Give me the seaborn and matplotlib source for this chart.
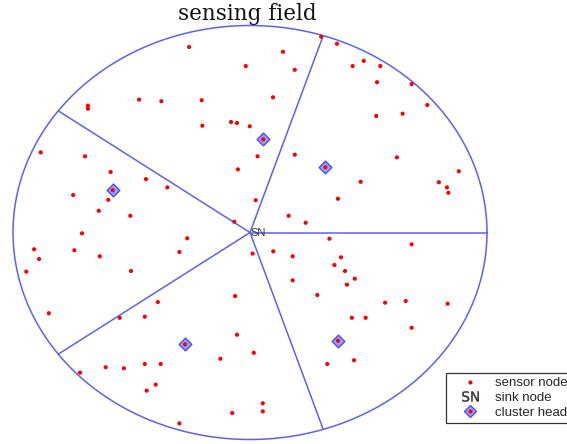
import numpy as np
import matplotlib
matplotlib.use("Agg")
import matplotlib.pyplot as plt
from matplotlib.lines import Line2D
import seaborn as sns

# sensor node positions (field radius 100, sink at origin)
sensor_x = [-25.7, 13.9, -1.8, 9.7, -68.4, -68.4, -46.8, -37.4, -20.4, -20.1,
            -8.0, -5.5, -0.1, 3.2, -5.1, 2.4, 16.3, -6.6, -88.3, -69.6,
            -58.8, -43.9, -34.9, -74.6, -59.8, -63.8, -50.5, 30.0, 36.7, 18.9,
            43.3, 48.0, 55.0, 53.6, 68.2, 74.8, 53.3, 64.4, 18.9, 62.0,
            88.1, 79.7, 83.1, 83.7, 46.7, 37.1, 23.5, 33.5, -70.9, -26.5,
            -91.1, -74.1, -89.0, -63.4, -29.8, 1.1, 9.8, -94.4, -50.2, -84.9,
            -38.9, -55.0, -44.4, -6.3, -5.5, 1.6, -12.5, -71.7, -60.9, -53.2,
            -44.4, -37.7, -39.8, -43.6, 5.4, 5.4, -7.5, -29.8, 68.2, 18.0,
            38.4, 35.6, 40.1, 44.2, 18.0, 40.9, 28.4, 57.0, 65.7, 83.4,
            43.0, 48.8, 68.2, 32.6, 43.9]
sensor_y = [89.6, 87.3, 80.4, 65.3, 61.3, 59.8, 64.2, 63.4, 63.9, 51.6,
            53.4, 52.9, 51.3, 36.8, 30.5, 15.6, 8.1, 5.2, 38.7, 36.8,
            29.2, 25.8, 21.8, 18.1, 15.8, 10.5, 8.1, 94.6, 91.2, 78.6,
            80.4, 82.9, 80.4, 72.6, 71.7, 61.6, 56.3, 57.4, 37.6, 36.3,
            29.6, 24.3, 21.8, 19.2, 24.5, 16.3, 4.7, -3.0, -0.4, -2.8,
            -8.1, -8.6, -12.8, -11.5, -9.4, -10.2, -9.1, -18.9, -18.6, -39.0,
            -33.6, -41.2, -40.7, -30.7, -49.4, -58.1, -61.0, -67.7, -65.1, -65.6,
            -63.5, -63.5, -73.5, -76.4, -82.5, -86.4, -87.2, -92.2, -5.7, -11.5,
            -12.0, -15.7, -18.6, -22.3, -23.1, -25.2, -30.2, -33.9, -33.1, -34.4,
            -41.2, -41.2, -46.0, -63.5, -61.7]

# cluster heads (one per sector)
head_x = [5.6, -57.9, 31.8, -27.4, 37.1]
head_y = [45.0, 20.4, 31.5, -54.0, -52.3]

radius = 100
sector_angles = [0, 72, 144, 216, 288]

line_col = "#5c62f2"

sns.set_style("white")
fig = plt.figure(figsize=(5.67, 4.44), dpi=100)
ax = fig.add_axes([0, 0, 1, 1])

# field boundary and sectors
t = np.linspace(0, 2 * np.pi, 400)
ax.plot(radius * np.cos(t), radius * np.sin(t), color=line_col, lw=1.1, zorder=1)
for a in sector_angles:
    r = np.deg2rad(a)
    ax.plot([0, radius * np.cos(r)], [0, radius * np.sin(r)], color=line_col, lw=1.1, zorder=1)

sns.scatterplot(x=head_x, y=head_y, marker="D", s=42, color="#9a9cff",
                edgecolor="#4a50ee", linewidth=1.0, zorder=2, ax=ax, legend=False)
sns.scatterplot(x=sensor_x + head_x, y=sensor_y + head_y, marker="o", s=9,
                color="red", edgecolor="none", zorder=3, ax=ax, legend=False)

ax.text(0.3, 0, "SN", fontsize=8, color="#333333", ha="left", va="center",
        family="Liberation Sans", zorder=4)

ax.set_xlim(-105.49, 133.76)
ax.set_ylim(-102.17, 112.32)
ax.axis("off")

fig.text(247 / 567, 1 - 14 / 444, "sensing field", fontsize=15.5, family="DejaVu Serif",
         ha="center", va="center", color="#111111")

h_sensor = Line2D([], [], ls="none", marker="o", ms=3, color="red", mec="none")
h_sink = Line2D([], [], ls="none", marker=r"$\mathrm{SN}$", ms=12, color="#333333",
                mew=0.3)
h_head_d = Line2D([], [], ls="none", marker="D", ms=6.5, mfc="#9a9cff", mec="#4a50ee")
h_head_o = Line2D([], [], ls="none", marker="o", ms=3, color="red", mec="none")
leg = ax.legend([h_sensor, h_sink, (h_head_d, h_head_o)],
                ["sensor node", "sink node", "cluster head"],
                loc="upper left", bbox_to_anchor=(446 / 567, 1 - 373 / 444),
                bbox_transform=fig.transFigure, borderaxespad=0,
                handlelength=3.0, handletextpad=0.4,
                labelspacing=0.2, borderpad=0.3, fancybox=False,
                framealpha=1, prop={"family": "Liberation Sans", "size": 9.5})
leg.get_frame().set_edgecolor("#333333")
leg.get_frame().set_linewidth(0.9)

fig.savefig("out.png", dpi=100)
